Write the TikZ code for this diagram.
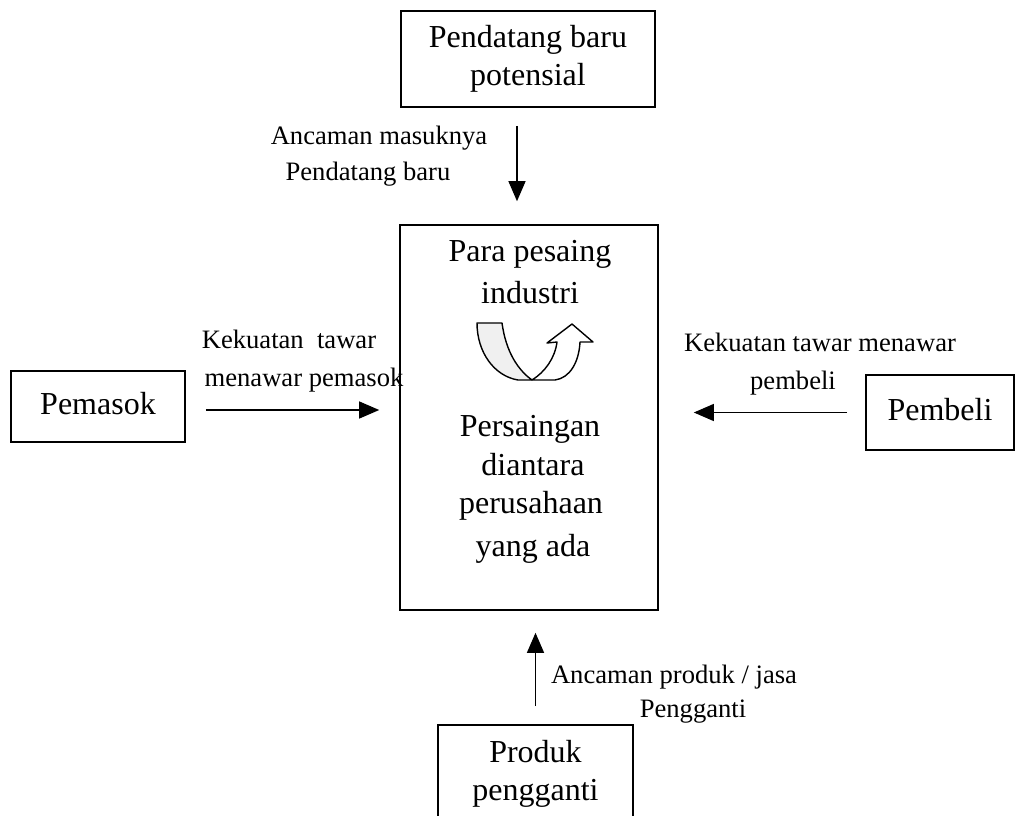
\documentclass[tikz,border=0pt]{standalone}
\usepackage{fontspec}
\setmainfont{Liberation Serif}
\usetikzlibrary{arrows.meta}
\begin{document}
\begin{tikzpicture}[x=0.5pt,y=-0.5pt]
\tikzset{
  box/.style={draw, line width=0.8pt, inner sep=0pt, align=center},
  big/.style={font=\fontsize{16}{19}\selectfont, align=center, inner sep=0pt},
  bigline/.style={big, text height=11.5pt, text depth=3.5pt},
  lab/.style={font=\fontsize{13.3}{16}\selectfont, inner sep=0pt, text height=9.5pt, text depth=3pt},
  arr/.style={line width=0.6pt, -{Triangle[length=10pt,width=8.5pt]}},
  curvearr/.style={line width=0.7pt, line join=round},
}
\useasboundingbox (0,0) rectangle (1017,815);
\fill[white] (0,0) rectangle (1017,815);

% boxes
\node[box, big, minimum width=127pt, minimum height=48pt] (ent) at (528,59) {Pendatang baru\\potensial};
\node[box, minimum width=129pt, minimum height=192.5pt] (core) at (529,417.5) {};
\node[box, bigline, minimum width=87pt, minimum height=35.5pt] (sup) at (98,406.5) {Pemasok};
\node[box, bigline, minimum width=74pt, minimum height=37.5pt] (buy) at (940,412.5) {Pembeli};
\node[box, big, minimum width=97.5pt, minimum height=49pt] (sub) at (535.5,774) {Produk\\pengganti};

% texts inside the central box
\node[bigline] (c1) at (530,253) {Para pesaing};
\node[bigline] (c2) at (530,295) {industri};
\node[bigline] (c3) at (530,428) {Persaingan};
\node[bigline] (c4) at (533,467) {diantara};
\node[bigline] (c5) at (531,505) {perusahaan};
\node[bigline] (c6) at (533,548) {yang ada};

% curved arrow
\draw[curvearr, fill=gray!12] (477,323) -- (502,323) .. controls (506,352) and (518,370) .. (532,380) -- (518,380) .. controls (494,376) and (477,352) .. (477,323) -- cycle;
\draw[curvearr, fill=white] (532,380) .. controls (545,372) and (555,358) .. (557,342) -- (547,343) -- (572,324) -- (593,342) -- (580,342) .. controls (579,362) and (570,378) .. (555,380) -- cycle;

% connectors
\draw[arr, shorten <=9pt, shorten >=11.5pt] ([xshift=-5.5pt]ent.south) -- ([xshift=-5.5pt]ent.south |- core.north);
\draw[arr, shorten <=10pt, shorten >=10pt] ([yshift=-1.75pt]sup.east) -- ([yshift=-1.75pt]sup.east -| core.west);
\draw[arr, shorten <=9pt, shorten >=17.5pt] (buy.west) -- (buy.west -| core.east);
\draw[arr, shorten <=9pt, shorten >=11pt] (sub.north) -- (sub.north |- core.south);

% labels
\node[lab] (l1a) at (379,138) {Ancaman masuknya};
\node[lab] (l1b) at (368,174) {Pendatang baru};
\node[lab] (l2a) at (289,342) {Kekuatan\ \ tawar};
\node[lab] (l2b) at (304,380) {menawar pemasok};
\node[lab] (l3a) at (820,345) {Kekuatan tawar menawar};
\node[lab] (l3b) at (793,383) {pembeli};
\node[lab] (l4a) at (674,677) {Ancaman produk / jasa};
\node[lab] (l4b) at (693,711) {Pengganti};
\end{tikzpicture}
\end{document}
